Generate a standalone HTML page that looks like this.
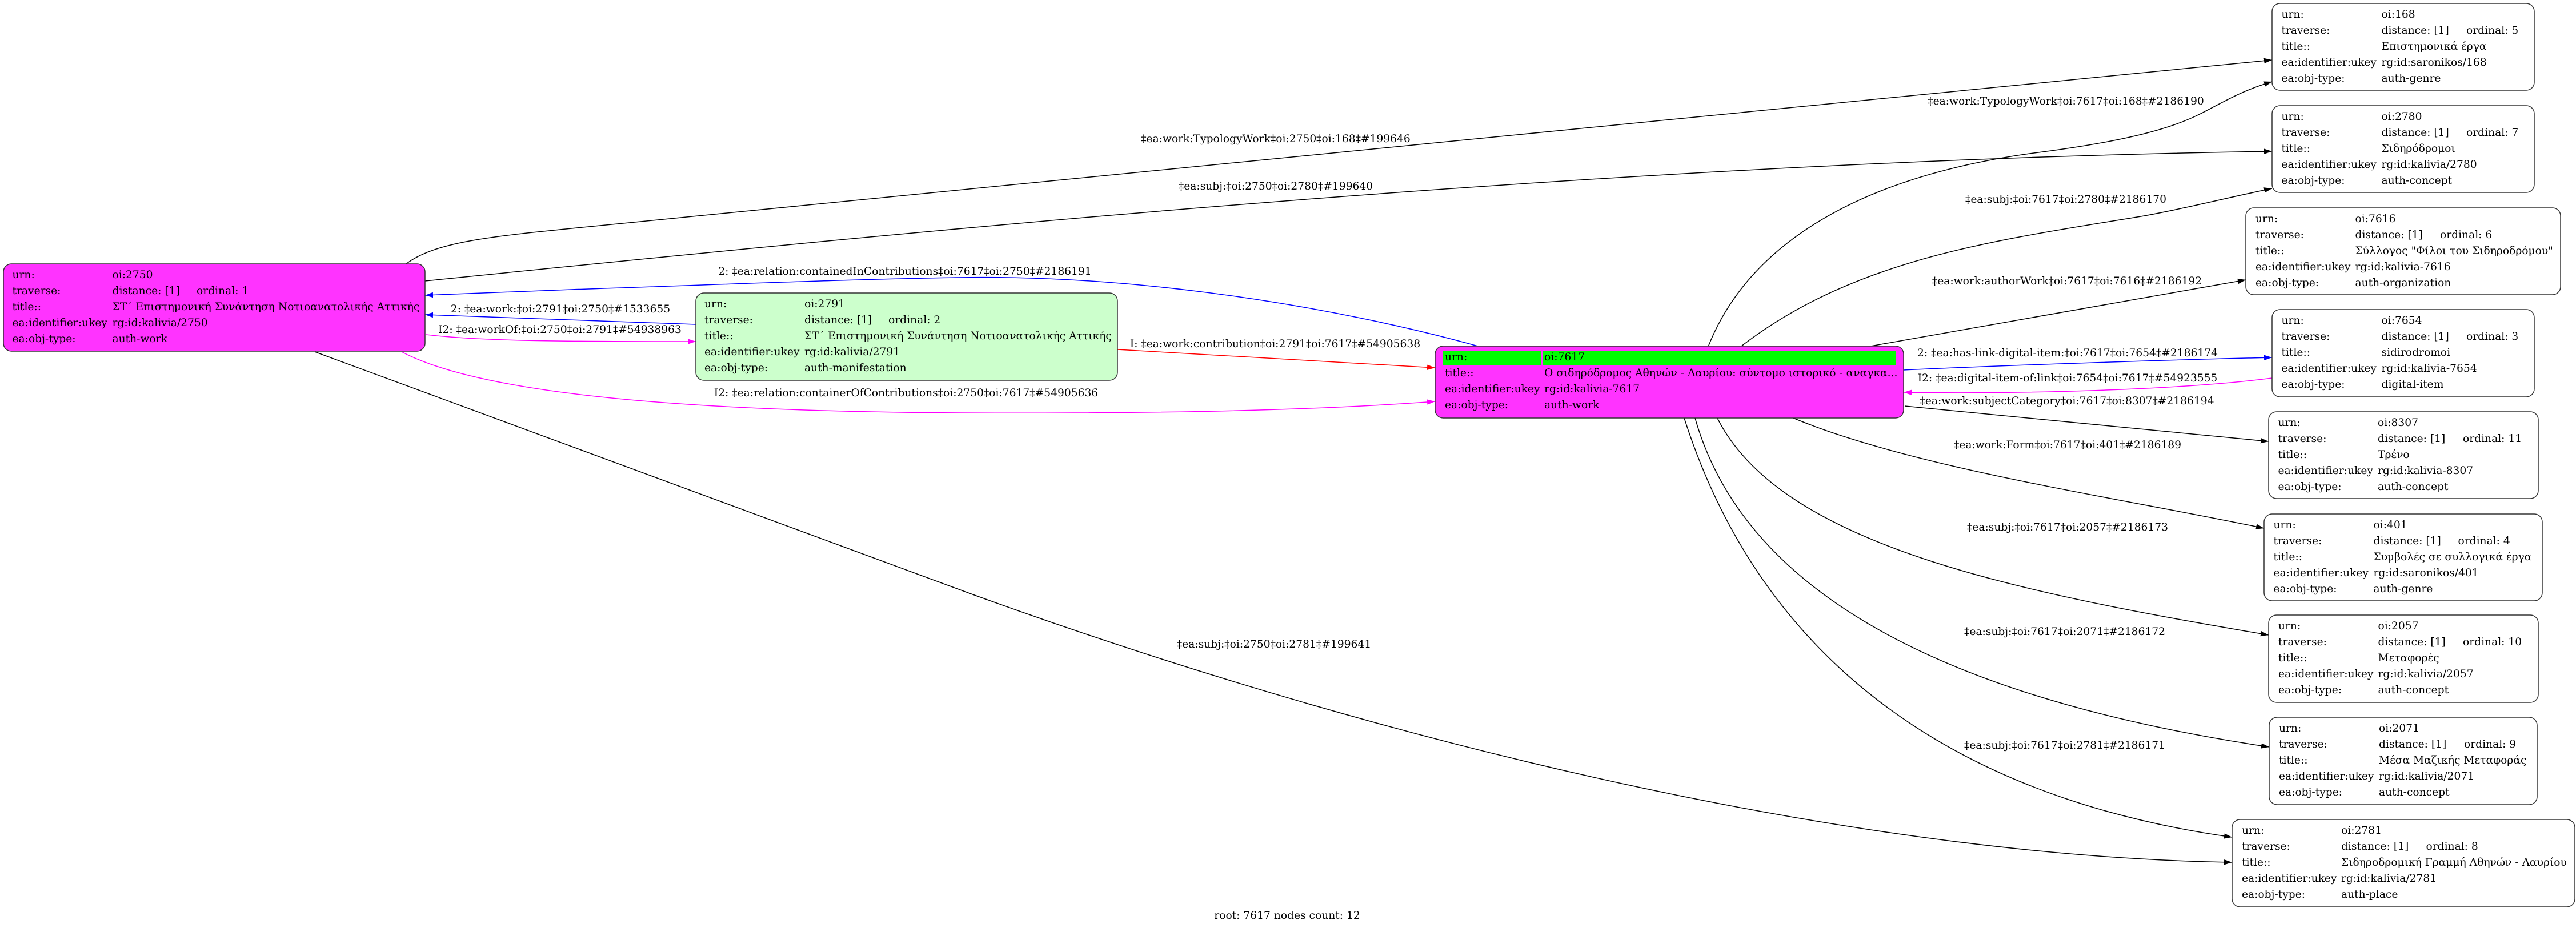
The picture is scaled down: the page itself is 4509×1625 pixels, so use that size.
<!DOCTYPE html>
<html>
<head>
<meta charset="utf-8">
<style>
html,body{margin:0;padding:0;background:#fff;}
svg{display:block;}
text{font-family:"DejaVu Serif","Liberation Serif","Noto Serif CJK SC",serif;font-size:18.67px;fill:#000;}
.e{fill:none;stroke-width:1.5;}
.k{stroke:#000;}
.b{stroke:#0000ff;}
.m{stroke:#ff00ff;}
.r{stroke:#ff0000;}
.n{stroke:#333;stroke-width:1.5;}
.c{text-anchor:middle;}
</style>
</head>
<body>
<svg width="4509" height="1625" viewBox="0 0 4509 1625" xmlns="http://www.w3.org/2000/svg">
<defs>
<marker id="ak" markerUnits="userSpaceOnUse" viewBox="0 0 14 10" refX="14" refY="5" markerWidth="14" markerHeight="10" orient="auto"><path d="M0,0.3 L14,5 L0,9.7 z" fill="#000"/></marker>
<marker id="ab" markerUnits="userSpaceOnUse" viewBox="0 0 14 10" refX="14" refY="5" markerWidth="14" markerHeight="10" orient="auto"><path d="M0,0.3 L14,5 L0,9.7 z" fill="#0000ff"/></marker>
<marker id="am" markerUnits="userSpaceOnUse" viewBox="0 0 14 10" refX="14" refY="5" markerWidth="14" markerHeight="10" orient="auto"><path d="M0,0.3 L14,5 L0,9.7 z" fill="#ff00ff"/></marker>
<marker id="ar" markerUnits="userSpaceOnUse" viewBox="0 0 14 10" refX="14" refY="5" markerWidth="14" markerHeight="10" orient="auto"><path d="M0,0.3 L14,5 L0,9.7 z" fill="#ff0000"/></marker>
</defs>

<!-- edges -->
<path class="e k" marker-end="url(#ak)" d="M711,462 C760,425 850,415 1000,400 L3977,105"/>
<path class="e k" marker-end="url(#ak)" d="M744,492 C1600,405 2800,283 3977,265"/>
<path class="e b" marker-end="url(#ab)" d="M2590,607 C2350,540 2000,480 1673,486 C1450,490 1300,497 1000,507 L744,517"/>
<path class="e b" marker-end="url(#ab)" d="M1218,568 L744,551"/>
<path class="e m" marker-end="url(#am)" d="M746,586 C850,598 1000,598 1218,598"/>
<path class="e m" marker-end="url(#am)" d="M703,616 C900,720 1500,725 1880,723 C2150,722 2350,715 2512,703"/>
<path class="e r" marker-end="url(#ar)" d="M1956,612 L2512,644"/>
<path class="e k" marker-end="url(#ak)" d="M551,616 L1700,1040 C2500,1330 3300,1500 3907,1510"/>

<path class="e k" marker-end="url(#ak)" d="M2990,607 C3060,430 3250,310 3560,268 C3700,250 3790,230 3850,200 C3890,180 3920,160 3977,143"/>
<path class="e k" marker-end="url(#ak)" d="M3047,607 C3250,450 3500,420 3753,378 C3830,364 3890,348 3977,330"/>
<path class="e k" marker-end="url(#ak)" d="M3275,606 L3931,490"/>
<path class="e b" marker-end="url(#ab)" d="M3332,648 C3500,640 3800,630 3977,626"/>
<path class="e m" marker-end="url(#am)" d="M3977,662 C3800,685 3500,690 3332,687"/>
<path class="e k" marker-end="url(#ak)" d="M3334,711 L3971,773"/>
<path class="e k" marker-end="url(#ak)" d="M3139,732 C3350,820 3700,870 3963,925"/>
<path class="e k" marker-end="url(#ak)" d="M3006,732 C3120,960 3550,1040 3971,1112"/>
<path class="e k" marker-end="url(#ak)" d="M2967,732 C3060,1060 3450,1230 3972,1308"/>
<path class="e k" marker-end="url(#ak)" d="M2948,732 C3050,1050 3300,1380 3907,1466"/>

<!-- edge labels -->
<text class="c" x="2233" y="249">‡ea:work:TypologyWork‡oi:2750‡oi:168‡#199646</text>
<text class="c" x="2233" y="332">‡ea:subj:‡oi:2750‡oi:2780‡#199640</text>
<text class="c" x="1584" y="481">2: ‡ea:relation:containedInContributions‡oi:7617‡oi:2750‡#2186191</text>
<text class="c" x="981" y="547">2: ‡ea:work:‡oi:2791‡oi:2750‡#1533655</text>
<text class="c" x="980" y="583">I2: ‡ea:workOf:‡oi:2750‡oi:2791‡#54938963</text>
<text class="c" x="1586" y="694">I2: ‡ea:relation:containerOfContributions‡oi:2750‡oi:7617‡#54905636</text>
<text class="c" x="2232" y="608">I: ‡ea:work:contribution‡oi:2791‡oi:7617‡#54905638</text>
<text class="c" x="2230" y="1134">‡ea:subj:‡oi:2750‡oi:2781‡#199641</text>
<text class="c" x="3616" y="183">‡ea:work:TypologyWork‡oi:7617‡oi:168‡#2186190</text>
<text class="c" x="3616" y="355">‡ea:subj:‡oi:7617‡oi:2780‡#2186170</text>
<text class="c" x="3618" y="498">‡ea:work:authorWork‡oi:7617‡oi:7616‡#2186192</text>
<text class="c" x="3619" y="624">2: ‡ea:has-link-digital-item:‡oi:7617‡oi:7654‡#2186174</text>
<text class="c" x="3619" y="668">I2: ‡ea:digital-item-of:link‡oi:7654‡oi:7617‡#54923555</text>
<text class="c" x="3618" y="708">‡ea:work:subjectCategory‡oi:7617‡oi:8307‡#2186194</text>
<text class="c" x="3619" y="785">‡ea:work:Form‡oi:7617‡oi:401‡#2186189</text>
<text class="c" x="3619" y="929">‡ea:subj:‡oi:7617‡oi:2057‡#2186173</text>
<text class="c" x="3614" y="1112">‡ea:subj:‡oi:7617‡oi:2071‡#2186172</text>
<text class="c" x="3614" y="1311">‡ea:subj:‡oi:7617‡oi:2781‡#2186171</text>

<!-- node 2750 -->
<rect class="n" x="6" y="462" width="738" height="153" rx="14" ry="14" fill="#ff33ff"/>
<text x="21.5" y="487">urn:</text><text x="196.5" y="487">oi:2750</text>
<text x="21.5" y="515">traverse:</text><text x="196.5" y="515">distance: [1]</text><text x="344" y="515">ordinal: 1</text>
<text x="21.5" y="543">title::</text><text x="196.5" y="543">ΣΤ΄ Επιστημονική Συνάντηση Νοτιοανατολικής Αττικής</text>
<text x="21.5" y="571">ea:identifier:ukey</text><text x="196.5" y="571">rg:id:kalivia/2750</text>
<text x="21.5" y="599">ea:obj-type:</text><text x="196.5" y="599">auth-work</text>

<!-- node 2791 -->
<rect class="n" x="1218" y="513" width="738" height="153" rx="14" ry="14" fill="#ccffcc"/>
<text x="1233" y="538">urn:</text><text x="1408" y="538">oi:2791</text>
<text x="1233" y="566">traverse:</text><text x="1408" y="566">distance: [1]</text><text x="1555" y="566">ordinal: 2</text>
<text x="1233" y="594">title::</text><text x="1408" y="594">ΣΤ΄ Επιστημονική Συνάντηση Νοτιοανατολικής Αττικής</text>
<text x="1233" y="622">ea:identifier:ukey</text><text x="1408" y="622">rg:id:kalivia/2791</text>
<text x="1233" y="650">ea:obj-type:</text><text x="1408" y="650">auth-manifestation</text>

<!-- node 7617 -->
<rect class="n" x="2512" y="606" width="820" height="126" rx="14" ry="14" fill="#ff33ff"/>
<rect x="2526" y="614" width="172" height="26" fill="#00ff00"/>
<rect x="2701" y="614" width="618" height="26" fill="#00ff00"/>
<text x="2529" y="631">urn:</text><text x="2703" y="631">oi:7617</text>
<text x="2529" y="659">title::</text><text x="2703" y="659">Ο σιδηρόδρομος Αθηνών - Λαυρίου: σύντομο ιστορικό - αναγκα...</text>
<text x="2529" y="687">ea:identifier:ukey</text><text x="2703" y="687">rg:id:kalivia-7617</text>
<text x="2529" y="715">ea:obj-type:</text><text x="2703" y="715">auth-work</text>

<!-- node 168 -->
<rect class="n" x="3977" y="6" width="459" height="152" rx="14" ry="14" fill="#fff"/>
<text x="3993.5" y="31">urn:</text><text x="4168.5" y="31">oi:168</text>
<text x="3993.5" y="59">traverse:</text><text x="4168.5" y="59">distance: [1]</text><text x="4317" y="59">ordinal: 5</text>
<text x="3993.5" y="87">title::</text><text x="4168.5" y="87">Επιστημονικά έργα</text>
<text x="3993.5" y="115">ea:identifier:ukey</text><text x="4168.5" y="115">rg:id:saronikos/168</text>
<text x="3993.5" y="143">ea:obj-type:</text><text x="4168.5" y="143">auth-genre</text>

<!-- node 2780 -->
<rect class="n" x="3977" y="185" width="459" height="152" rx="14" ry="14" fill="#fff"/>
<text x="3993.5" y="210">urn:</text><text x="4168.5" y="210">oi:2780</text>
<text x="3993.5" y="238">traverse:</text><text x="4168.5" y="238">distance: [1]</text><text x="4317" y="238">ordinal: 7</text>
<text x="3993.5" y="266">title::</text><text x="4168.5" y="266">Σιδηρόδρομοι</text>
<text x="3993.5" y="294">ea:identifier:ukey</text><text x="4168.5" y="294">rg:id:kalivia/2780</text>
<text x="3993.5" y="322">ea:obj-type:</text><text x="4168.5" y="322">auth-concept</text>

<!-- node 7616 -->
<rect class="n" x="3931" y="364" width="551" height="152" rx="14" ry="14" fill="#fff"/>
<text x="3948" y="389">urn:</text><text x="4122.5" y="389">oi:7616</text>
<text x="3948" y="417">traverse:</text><text x="4122.5" y="417">distance: [1]</text><text x="4271" y="417">ordinal: 6</text>
<text x="3948" y="445">title::</text><text x="4122.5" y="445">Σύλλογος "Φίλοι του Σιδηροδρόμου"</text>
<text x="3948" y="473">ea:identifier:ukey</text><text x="4122.5" y="473">rg:id:kalivia-7616</text>
<text x="3948" y="501">ea:obj-type:</text><text x="4122.5" y="501">auth-organization</text>

<!-- node 7654 -->
<rect class="n" x="3977" y="542" width="459" height="153" rx="14" ry="14" fill="#fff"/>
<text x="3993.5" y="567">urn:</text><text x="4168.5" y="567">oi:7654</text>
<text x="3993.5" y="595">traverse:</text><text x="4168.5" y="595">distance: [1]</text><text x="4317" y="595">ordinal: 3</text>
<text x="3993.5" y="623">title::</text><text x="4168.5" y="623">sidirodromoi</text>
<text x="3993.5" y="651">ea:identifier:ukey</text><text x="4168.5" y="651">rg:id:kalivia-7654</text>
<text x="3993.5" y="679">ea:obj-type:</text><text x="4168.5" y="679">digital-item</text>

<!-- node 8307 -->
<rect class="n" x="3971" y="721" width="472" height="152" rx="14" ry="14" fill="#fff"/>
<text x="3987.5" y="746">urn:</text><text x="4162" y="746">oi:8307</text>
<text x="3987.5" y="774">traverse:</text><text x="4162" y="774">distance: [1]</text><text x="4311" y="774">ordinal: 11</text>
<text x="3987.5" y="802">title::</text><text x="4162" y="802">Τρένο</text>
<text x="3987.5" y="830">ea:identifier:ukey</text><text x="4162" y="830">rg:id:kalivia-8307</text>
<text x="3987.5" y="858">ea:obj-type:</text><text x="4162" y="858">auth-concept</text>

<!-- node 401 -->
<rect class="n" x="3963" y="900" width="487" height="152" rx="14" ry="14" fill="#fff"/>
<text x="3979.5" y="925">urn:</text><text x="4154.5" y="925">oi:401</text>
<text x="3979.5" y="953">traverse:</text><text x="4154.5" y="953">distance: [1]</text><text x="4302.5" y="953">ordinal: 4</text>
<text x="3979.5" y="981">title::</text><text x="4154.5" y="981">Συμβολές σε συλλογικά έργα</text>
<text x="3979.5" y="1009">ea:identifier:ukey</text><text x="4154.5" y="1009">rg:id:saronikos/401</text>
<text x="3979.5" y="1037">ea:obj-type:</text><text x="4154.5" y="1037">auth-genre</text>

<!-- node 2057 -->
<rect class="n" x="3971" y="1077" width="472" height="153" rx="14" ry="14" fill="#fff"/>
<text x="3988" y="1102">urn:</text><text x="4162.5" y="1102">oi:2057</text>
<text x="3988" y="1130">traverse:</text><text x="4162.5" y="1130">distance: [1]</text><text x="4311" y="1130">ordinal: 10</text>
<text x="3988" y="1158">title::</text><text x="4162.5" y="1158">Μεταφορές</text>
<text x="3988" y="1186">ea:identifier:ukey</text><text x="4162.5" y="1186">rg:id:kalivia/2057</text>
<text x="3988" y="1214">ea:obj-type:</text><text x="4162.5" y="1214">auth-concept</text>

<!-- node 2071 -->
<rect class="n" x="3972" y="1256" width="469" height="153" rx="14" ry="14" fill="#fff"/>
<text x="3989" y="1281">urn:</text><text x="4164" y="1281">oi:2071</text>
<text x="3989" y="1309">traverse:</text><text x="4164" y="1309">distance: [1]</text><text x="4313" y="1309">ordinal: 9</text>
<text x="3989" y="1337">title::</text><text x="4164" y="1337">Μέσα Μαζικής Μεταφοράς</text>
<text x="3989" y="1365">ea:identifier:ukey</text><text x="4164" y="1365">rg:id:kalivia/2071</text>
<text x="3989" y="1393">ea:obj-type:</text><text x="4164" y="1393">auth-concept</text>

<!-- node 2781 -->
<rect class="n" x="3907" y="1435" width="600" height="153" rx="14" ry="14" fill="#fff"/>
<text x="3924" y="1460">urn:</text><text x="4098" y="1460">oi:2781</text>
<text x="3924" y="1488">traverse:</text><text x="4098" y="1488">distance: [1]</text><text x="4246.5" y="1488">ordinal: 8</text>
<text x="3924" y="1516">title::</text><text x="4098" y="1516">Σιδηροδρομική Γραμμή Αθηνών - Λαυρίου</text>
<text x="3924" y="1544">ea:identifier:ukey</text><text x="4098" y="1544">rg:id:kalivia/2781</text>
<text x="3924" y="1572">ea:obj-type:</text><text x="4098" y="1572">auth-place</text>

<!-- footer -->
<text class="c" x="2253" y="1609">root: 7617 nodes count: 12</text>
</svg>
</body>
</html>
